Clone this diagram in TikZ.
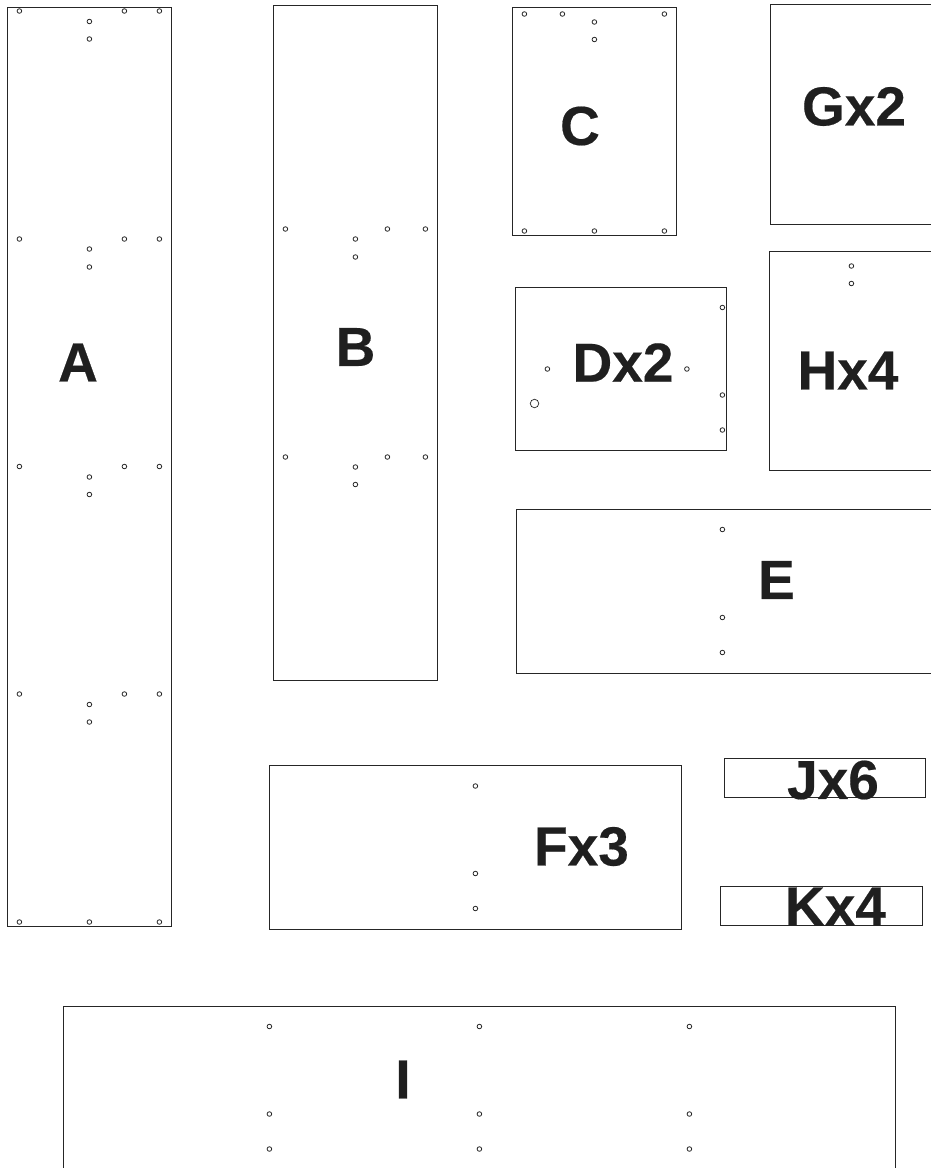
\documentclass[tikz,border=0pt]{standalone}
\usepackage{fontspec}
\setmainfont{Liberation Sans}
\newfontfamily\labfont[UprightFont=* Bold,FakeBold=0.35]{Liberation Sans}
\newcommand{\holes}[1]{\foreach \x/\y in {#1} {\node[hole] at (\x+0.4,-\y) {};}}
\newcommand{\panel}[4]{\draw[panelline] (#1,-#2) rectangle (#3,-#4);}
\begin{document}
\begin{tikzpicture}[x=1pt,y=1pt,
  panelline/.style={draw=black!85,line width=0.75pt},
  hole/.style={circle,draw=black!85,line width=0.8pt,minimum size=4.6pt,inner sep=0pt},
  bighole/.style={circle,draw=black!85,line width=0.7pt,minimum size=8.5pt,inner sep=0pt},
  lab/.style={font=\labfont\fontsize{#1}{#1}\selectfont,text=black!88,inner sep=0pt}]
\useasboundingbox (0,-1168) rectangle (930,0);
\fill[white] (0,-1168) rectangle (930,0);
% panels
\panel{7.5}{7.5}{171.5}{926.5}
\panel{273.5}{5.5}{437.5}{680.5}
\panel{512.5}{7.5}{676}{235.5}
\panel{770}{4.5}{932}{224.5}
\panel{515.5}{287}{726.5}{450.5}
\panel{769}{251.5}{932}{470.5}
\panel{516}{509.5}{932}{673}
\panel{269}{765.5}{681.5}{929.5}
\panel{724}{758.5}{925.5}{797.5}
\panel{720.5}{886.5}{922.5}{925.5}
\panel{63}{1006}{895.5}{1172}
% holes
\holes{19/11,89/21.5,89/39,124/11,159/11,
19/239,89/249,89/267,124/239,159/239,
19/466.5,89/477,89/494.5,124/466.5,159/466.5,
19/694,89/704.5,89/722,124/694,159/694,
19/922,89/922,159/922}
\holes{285/229,355/239,355/257,387/229,425/229,
285/457,355/467,355/484.5,387/457,425/457}
\holes{524/14,562/14,594/22,594/39.5,664/14,524/231,594/231,664/231}
\holes{851/266,851/283.5}
\holes{722/307.5,547/369,686.5/369,722/395,722/430}
\node[bighole] (big) at (534.5,-403.5) {};
\holes{722/529.5,722/617.5,722/652.5}
\holes{475/786,475/873.5,475/908.5}
\holes{269/1026.5,269/1114,269/1149,479/1026.5,479/1114,479/1149,689/1026.5,689/1114,689/1149}
% labels
\node[lab=55] (la) at (78,-362.5) {A};
\node[lab=55] (lb) at (355.5,-347) {B};
\node[lab=55] (lc) at (580,-126) {C};
\node[lab=55] (ld) at (623,-362.5) {Dx2};
\node[lab=55] (le) at (776.5,-580) {E};
\node[lab=55] (lf) at (581.5,-846.5) {Fx3};
\node[lab=55] (lg) at (854,-106.5) {Gx2};
\node[lab=55] (lh) at (848,-370.5) {Hx4};
\node[lab=55] (li) at (403,-1079.5) {I};
\node[lab=55] (lj) at (833,-780) {Jx6};
\node[lab=55] (lk) at (835.5,-906.5) {Kx4};
\end{tikzpicture}
\end{document}
